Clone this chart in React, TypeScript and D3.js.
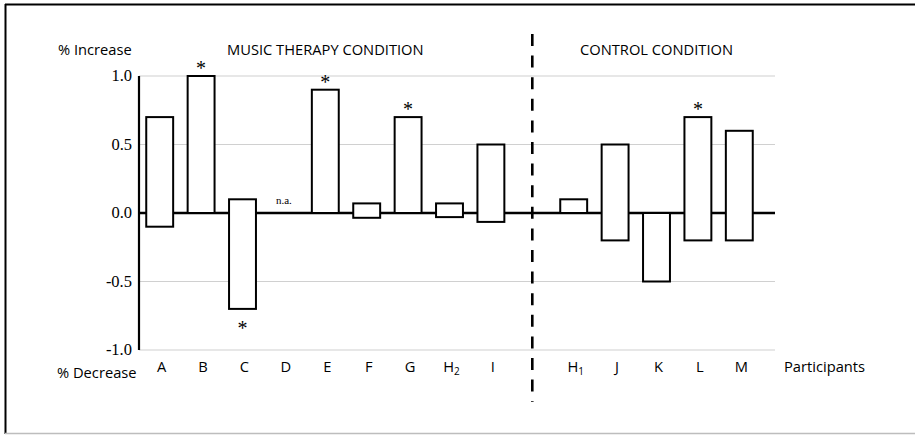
import React from "react";
import * as d3 from "d3";

const participants = ["A", "B", "C", "D", "E", "F", "G", "H2", "I", "H1", "J", "K", "L", "M"];
const groups = ["music", "music", "music", "music", "music", "music", "music", "music", "music", "control", "control", "control", "control", "control"];
const highValues: (number | null)[] = [0.7, 1.0, 0.1, null, 0.9, 0.07, 0.7, 0.07, 0.5, 0.1, 0.5, 0.0, 0.7, 0.6];
const lowValues: (number | null)[] = [-0.1, 0.0, -0.7, null, 0.0, -0.035, 0.0, -0.03, -0.065, 0.0, -0.2, -0.5, -0.2, -0.2];
const significance: (string | null)[] = [null, "up", "down", null, "up", null, "up", null, null, null, null, null, "up", null];
const yTicks = [1.0, 0.5, 0.0, -0.5, -1.0];
const groupTitles = { music: "MUSIC THERAPY CONDITION", control: "CONTROL CONDITION" };
const GAP = "__gap__";

const W = 915;
const H = 435;
const SANS = "Open Sans, Lato, sans-serif";
const SERIF = "Liberation Serif, Times New Roman, DejaVu Serif, serif";

export default function App() {
  const domain = [...participants.slice(0, 9), GAP, ...participants.slice(9)];
  const x = d3.scaleBand<string>().domain(domain).range([139, 760]).paddingInner(0.35).paddingOuter(0.175);
  const y = d3.scaleLinear().domain([-1, 1]).range([350, 76]);
  const gridEnd = 775;
  const axisX = 139;
  const cx = (p: string) => (x(p) as number) + x.bandwidth() / 2;
  const fmt = (t: number) => d3.format(".1f")(t).replace("\u2212", "-");

  const groupCenter = (g: string) => {
    const ps = participants.filter((_, i) => groups[i] === g);
    const ext = d3.extent(ps.map(cx)) as [number, number];
    return (ext[0] + ext[1]) / 2;
  };

  const labelNode = (p: string) => {
    const m = p.match(/^([A-Z])(\d)$/);
    if (m) {
      return (
        <>
          {m[1]}
          <tspan style={{ fontSize: "10px" }} dy={3}>{m[2]}</tspan>
        </>
      );
    }
    return p;
  };

  const dividerX = cx(GAP);
  const sansStyle = { fontFamily: SANS, fontSize: "14.7px" };
  const serifStyle = (size: number) => ({ fontFamily: SERIF, fontSize: size + "px" });

  return (
    <div style={{ position: "absolute", left: 0, top: 0 }}>
      <svg width={W} height={H} style={{ display: "block", background: "#fff" }}>
        {/* frame */}
        <line x1={5} x2={W} y1={4.5} y2={4.5} stroke="#000" strokeWidth={2} />
        <line x1={5.5} x2={5.5} y1={4} y2={434} stroke="#000" strokeWidth={2} />
        <line x1={5} x2={W} y1={433.5} y2={433.5} stroke="#bdbdbd" strokeWidth={1.5} />

        {/* gridlines */}
        {yTicks.filter((t) => t !== 0).map((t) => (
          <line key={t} x1={axisX} x2={gridEnd} y1={y(t)} y2={y(t)} stroke="#d0d0d0" strokeWidth={1.2} />
        ))}
        {/* zero line */}
        <line x1={axisX} x2={gridEnd} y1={y(0)} y2={y(0)} stroke="#000" strokeWidth={2.5} />
        {/* y axis */}
        <line x1={axisX} x2={axisX} y1={y(1)} y2={y(-1)} stroke="#000" strokeWidth={2.2} />

        {/* y tick labels */}
        {yTicks.map((t) => (
          <text key={t} x={132} y={y(t)} dy="0.33em" textAnchor="end" style={serifStyle(16.5)} fill="#000">
            {fmt(t)}
          </text>
        ))}

        {/* bars */}
        {participants.map((p, i) => {
          const hi = highValues[i];
          const lo = lowValues[i];
          if (hi === null || lo === null) {
            return (
              <text key={p} x={cx(p)} y={y(0) - 9} textAnchor="middle" style={serifStyle(11)} fill="#000">
                n.a.
              </text>
            );
          }
          return (
            <rect
              key={p}
              x={x(p)}
              y={y(hi)}
              width={x.bandwidth()}
              height={Math.max(0, y(lo) - y(hi))}
              fill="#fff"
              stroke="#000"
              strokeWidth={2}
            />
          );
        })}

        {/* significance asterisks */}
        {participants.map((p, i) => {
          const s = significance[i];
          if (!s) return null;
          const yy = s === "up" ? y(highValues[i] as number) - 1 : y(lowValues[i] as number) + 26;
          return (
            <text key={"s" + p} x={cx(p)} y={yy} textAnchor="middle" style={serifStyle(20)} fill="#000">
              *
            </text>
          );
        })}

        {/* divider */}
        <line x1={dividerX} x2={dividerX} y1={34} y2={402} stroke="#000" strokeWidth={2.6} strokeDasharray="12 9.6" />

        {/* group titles */}
        {(["music", "control"] as const).map((g) => (
          <text key={g} x={groupCenter(g)} y={55} textAnchor="middle" style={sansStyle} fill="#000">
            {groupTitles[g]}
          </text>
        ))}

        {/* axis captions */}
        <text x={58} y={55} style={sansStyle} fill="#000">% Increase</text>
        <text x={57} y={378} style={sansStyle} fill="#000">% Decrease</text>

        {/* x labels */}
        {participants.map((p) => (
          <text key={"l" + p} x={cx(p) + 2} y={372} textAnchor="middle" style={sansStyle} fill="#000">
            {labelNode(p)}
          </text>
        ))}
        <text x={784} y={372} style={sansStyle} fill="#000">Participants</text>
      </svg>
    </div>
  );
}
